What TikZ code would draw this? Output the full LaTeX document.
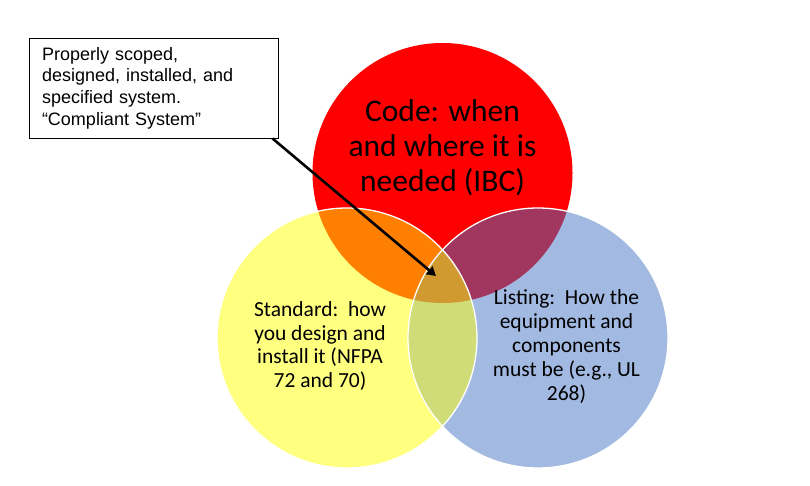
\documentclass[tikz,border=0pt]{standalone}
\usepackage{fontspec}
\setmainfont{Carlito}
\newfontfamily\notefont{Liberation Sans}
\usetikzlibrary{arrows.meta}
\definecolor{codered}{RGB}{255,0,0}
\definecolor{stdyellow}{RGB}{255,255,128}
\definecolor{listblue}{RGB}{162,185,225}
\definecolor{cyorange}{RGB}{255,128,0}
\definecolor{cbmaroon}{RGB}{161,54,94}
\definecolor{ybgreen}{RGB}{208,220,120}
\definecolor{allochre}{RGB}{208,154,48}

\begin{document}
\begin{tikzpicture}[x=1pt,y=-1pt,
  ring/.style={draw=white, line width=1.3pt},
  label/.style={align=center, inner sep=0pt},
  arrow/.style={line width=2.6pt, -{Triangle[length=9pt,width=10pt]}}]
\useasboundingbox (0,0) rectangle (810,486);
\fill[white] (0,0) rectangle (810,486);
% the three circles
\coordinate (c) at (442.5,173);
\coordinate (s) at (347,338);
\coordinate (l) at (538,338);
\fill[codered] (c) circle (130);
\fill[stdyellow] (s) circle (130);
\fill[listblue] (l) circle (130);
% overlaps
\begin{scope}
\clip (c) circle (130);
\fill[cyorange] (s) circle (130);
\fill[cbmaroon] (l) circle (130);
\end{scope}
\begin{scope}
\clip (s) circle (130);
\fill[ybgreen] (l) circle (130);
\clip (l) circle (130);
\fill[allochre] (c) circle (130);
\end{scope}
\draw[ring] (s) circle (130);
\draw[ring] (l) circle (130);
% texts
\node[label, font=\fontsize{31.5}{35}\selectfont] (code) at (442.5,148)
  {Code: when\\and where it is\\needed (IBC)};
\node[label, font=\fontsize{21.5}{23.5}\selectfont] (standard) at (320,346)
  {Standard:\ \ how\\you design and\\install it (NFPA\\72 and 70)};
\node[label, font=\fontsize{21.5}{24}\selectfont] (listing) at (566.5,347)
  {Listing:\ \ How the\\equipment and\\components\\must be (e.g., UL\\268)};
% callout
\node[draw=black, line width=0.8pt, fill=white, minimum width=249pt, minimum height=100pt,
  text width=223pt, align=left, inner xsep=13pt,
  font=\notefont\fontsize{18}{21.7}\selectfont] (note) at (153.5,88)
  {Properly scoped,\\designed, installed, and\\specified system.\\“Compliant System”};
\coordinate (tip) at (436,276);
\draw[arrow] ([xshift=-6pt]note.south east) -- (tip);
\end{tikzpicture}
\end{document}
